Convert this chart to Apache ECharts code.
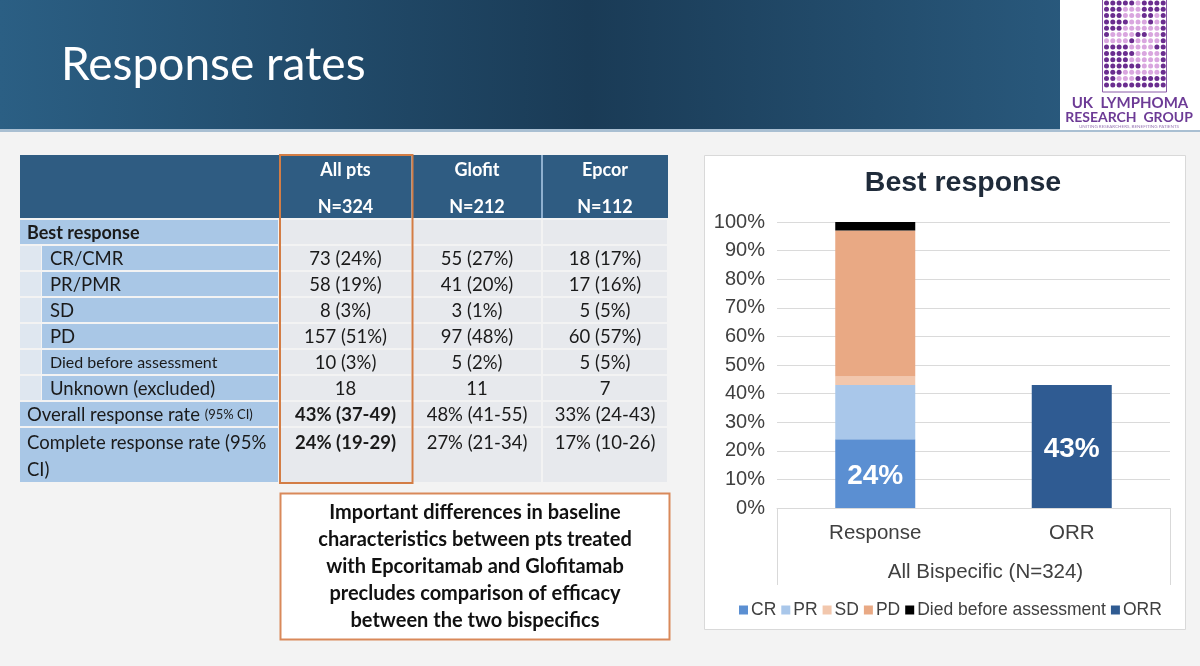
<!DOCTYPE html>
<html>
<head>
<meta charset="utf-8">
<script src="https://cdn.jsdelivr.net/npm/echarts@6/dist/echarts.min.js"></script>
<style>
  html, body { margin: 0; padding: 0; background: #f3f3f3; }
  #main { width: 1200px; height: 666px; }
</style>
</head>
<body>
<div id="main"></div>
<script>
// table content
var columnHeads = ['All pts', 'Glofit', 'Epcor'];
var columnN = ['N=324', 'N=212', 'N=112'];
var rowLabels = ['CR/CMR', 'PR/PMR', 'SD', 'PD', 'Died before assessment', 'Unknown (excluded)'];
var allPts = ['73 (24%)', '58 (19%)', '8 (3%)', '157 (51%)', '10 (3%)', '18'];
var glofit = ['55 (27%)', '41 (20%)', '3 (1%)', '97 (48%)', '5 (2%)', '11'];
var epcor = ['18 (17%)', '17 (16%)', '5 (5%)', '60 (57%)', '5 (5%)', '7'];
var orrRow = ['43% (37-49)', '48% (41-55)', '33% (24-43)'];
var crrRow = ['24% (19-29)', '27% (21-34)', '17% (10-26)'];
var noteLines = [
  'Important differences in baseline',
  'characteristics between pts treated',
  'with Epcoritamab and Glofitamab',
  'precludes comparison of efficacy',
  'between the two bispecifics'
];

// chart content
var categories = ['Response', 'ORR'];
var crVals = [24, null];
var prVals = [19, null];
var sdVals = [3, null];
var pdVals = [51, null];
var diedVals = [3, null];
var orrVals = [null, 43];

var myChart = echarts.init(document.getElementById('main'));

var FONT = 'Lato, "Open Sans", sans-serif';
var ARIAL = '"Liberation Sans", Arial, sans-serif';

var g = [];

// header band
g.push({
  type: 'rect', shape: { x: 0, y: 0, width: 1200, height: 130 },
  style: {
    fill: new echarts.graphic.LinearGradient(0, 0, 1, 0, [
      { offset: 0, color: '#2b5f84' },
      { offset: 0.49, color: '#1a3b56' },
      { offset: 1, color: '#2d6187' }
    ])
  }
});
g.push({ type: 'rect', shape: { x: 0, y: 129, width: 1200, height: 3 }, style: { fill: '#a9bfd2' } });
g.push({
  type: 'text', x: 61, y: 65,
  style: { text: 'Response rates', fill: '#ffffff', font: '46px ' + FONT, verticalAlign: 'middle' }
});

// logo
g.push({ type: 'rect', shape: { x: 1060, y: 0, width: 140, height: 130 }, style: { fill: '#ffffff' } });
var logoRows = [
  'dddddldddd', 'dddllldddd', 'dddlllddld', 'ddddllldld', 'dddlllllld',
  'dllllddlld', 'lllldlllld', 'ddddlllldd', 'dddddlllld', 'ddddllllld',
  'ddddddllld', 'dddlllllld', 'ddllldddddd', 'dddddddddd'
];
logoRows.forEach(function (row, r) {
  for (var c = 0; c < 10; c++) {
    g.push({
      type: 'circle', shape: { cx: 1106.5 + c * 6.3, cy: 3 + r * 6.3, r: 2.5 },
      style: { fill: row[c] === 'd' ? '#6a2d8f' : '#d9a6df' }
    });
  }
});
g.push({ type: 'rect', shape: { x: 1102.5, y: -2, width: 64, height: 94 }, style: { fill: 'none', stroke: '#8a5aa8', lineWidth: 1 } });
g.push({ type: 'text', x: 1130, y: 103, style: { text: 'UK  LYMPHOMA', fill: '#6d3b96', font: 'bold 15px ' + FONT, align: 'center', verticalAlign: 'middle' } });
g.push({ type: 'text', x: 1129, y: 117, style: { text: 'RESEARCH  GROUP', fill: '#6d3b96', font: 'bold 14px ' + FONT, align: 'center', verticalAlign: 'middle' } });
g.push({ type: 'text', x: 1129, y: 127, style: { text: 'UNITING RESEARCHERS, BENEFITING PATIENTS', fill: '#9a7ab5', font: '4.5px ' + FONT, align: 'center', verticalAlign: 'middle' } });

// table
var colX = [20, 279, 412, 542, 668];
var HEAD_BLUE = '#2f5c82';
var LABEL_BLUE = '#a9c7e6';
var CELL_GREY = '#e7e9ed';
var STRIP = '#dfe7f0';
var TXT = '#1a1a1a';
var TF = '18.5px ' + FONT;

g.push({ type: 'rect', shape: { x: 20, y: 155, width: 648, height: 63 }, style: { fill: HEAD_BLUE } });
g.push({ type: 'rect', shape: { x: 541, y: 155, width: 2, height: 63 }, style: { fill: '#8fb0cf' } });
g.push({ type: 'rect', shape: { x: 411, y: 155, width: 2, height: 63 }, style: { fill: '#8fb0cf' } });
for (var k = 0; k < 3; k++) {
  var cx = (colX[k + 1] + colX[k + 2]) / 2;
  g.push({ type: 'text', x: cx, y: 170, style: { text: columnHeads[k], fill: '#fff', font: 'bold 18px ' + FONT, align: 'center', verticalAlign: 'middle' } });
  g.push({ type: 'text', x: cx, y: 207, style: { text: columnN[k], fill: '#fff', font: 'bold 18px ' + FONT, align: 'center', verticalAlign: 'middle' } });
}

function rowCells(top, h, values, bold) {
  for (var k = 0; k < 3; k++) {
    var x0 = colX[k + 1] + 1, x1 = colX[k + 2] - 1;
    g.push({ type: 'rect', shape: { x: x0, y: top, width: x1 - x0, height: h }, style: { fill: CELL_GREY } });
    if (values) {
      g.push({
        type: 'text', x: (x0 + x1) / 2, y: top + 13,
        style: { text: values[k], fill: TXT, font: (bold && k === 0 ? 'bold ' : '') + TF, align: 'center', verticalAlign: 'middle' }
      });
    }
  }
}

// best response row
var top0 = 220;
g.push({ type: 'rect', shape: { x: 20, y: top0, width: 258, height: 24 }, style: { fill: LABEL_BLUE } });
g.push({ type: 'text', x: 27, y: top0 + 13, style: { text: 'Best response', fill: TXT, font: 'bold 18px ' + FONT, verticalAlign: 'middle' } });
rowCells(top0, 24, null, false);

// sub rows
rowLabels.forEach(function (lab, i) {
  var top = 220 + 26 * (i + 1);
  g.push({ type: 'rect', shape: { x: 20, y: top, width: 21, height: 24 }, style: { fill: STRIP } });
  g.push({ type: 'rect', shape: { x: 42, y: top, width: 236, height: 24 }, style: { fill: LABEL_BLUE } });
  g.push({
    type: 'text', x: 50, y: top + 13,
    style: { text: lab, fill: TXT, font: (i === 4 ? '16px ' + FONT : TF), verticalAlign: 'middle' }
  });
  rowCells(top, 24, [allPts[i], glofit[i], epcor[i]], false);
});

// ORR row
var topOrr = 220 + 26 * 7;
g.push({ type: 'rect', shape: { x: 20, y: topOrr, width: 258, height: 24 }, style: { fill: LABEL_BLUE } });
g.push({
  type: 'text', x: 27, y: topOrr + 13,
  style: {
    text: '{a|Overall response rate }{b|(95% CI)}', verticalAlign: 'middle',
    rich: { a: { fill: TXT, font: TF }, b: { fill: TXT, font: '13px ' + FONT } }
  }
});
rowCells(topOrr, 24, orrRow, true);

// CRR row
var topCrr = 220 + 26 * 8;
g.push({ type: 'rect', shape: { x: 20, y: topCrr, width: 258, height: 54 }, style: { fill: LABEL_BLUE } });
g.push({ type: 'text', x: 27, y: topCrr + 15, style: { text: 'Complete response rate (95%', fill: TXT, font: TF, verticalAlign: 'middle' } });
g.push({ type: 'text', x: 27, y: topCrr + 42, style: { text: 'CI)', fill: TXT, font: TF, verticalAlign: 'middle' } });
for (var k2 = 0; k2 < 3; k2++) {
  var xa = colX[k2 + 1] + 1, xb = colX[k2 + 2] - 1;
  g.push({ type: 'rect', shape: { x: xa, y: topCrr, width: xb - xa, height: 54 }, style: { fill: CELL_GREY } });
  g.push({ type: 'text', x: (xa + xb) / 2, y: topCrr + 15, style: { text: crrRow[k2], fill: TXT, font: (k2 === 0 ? 'bold ' : '') + TF, align: 'center', verticalAlign: 'middle' } });
}

// highlight box round All pts
g.push({ type: 'rect', shape: { x: 280, y: 155, width: 132.5, height: 328 }, style: { fill: 'none', stroke: '#d37d45', lineWidth: 2 } });

// note box
g.push({ type: 'rect', shape: { x: 280.5, y: 493.5, width: 389, height: 146 }, style: { fill: '#ffffff', stroke: '#d9895a', lineWidth: 2 } });
noteLines.forEach(function (line, i) {
  g.push({ type: 'text', x: 475, y: 513 + i * 27, style: { text: line, fill: '#111', font: 'bold 20px ' + FONT, align: 'center', verticalAlign: 'middle' } });
});

// chart panel behind the chart
g.push({ type: 'rect', z: -10, shape: { x: 704.5, y: 155.5, width: 481, height: 474 }, style: { fill: '#ffffff', stroke: '#d9d9d9', lineWidth: 1 } });
g.push({ type: 'text', x: 963, y: 183, style: { text: 'Best response', fill: '#1f2b3a', font: 'bold 28.5px ' + ARIAL, align: 'center', verticalAlign: 'middle' } });
g.push({ type: 'line', shape: { x1: 777.5, y1: 508, x2: 777.5, y2: 585 }, style: { stroke: '#d9d9d9', lineWidth: 1 } });
g.push({ type: 'line', shape: { x1: 1170.5, y1: 508, x2: 1170.5, y2: 585 }, style: { stroke: '#d9d9d9', lineWidth: 1 } });

function barSeries(name, data, color, label) {
  return {
    name: name, type: 'bar', stack: 'all', data: data, barWidth: 80,
    itemStyle: { color: color },
    label: label ? {
      show: true, position: 'inside', formatter: '{c}%', offset: [0, 3],
      color: '#ffffff', fontFamily: ARIAL, fontWeight: 'bold', fontSize: 28
    } : { show: false },
    z: 5
  };
}

myChart.setOption({
  backgroundColor: '#f3f3f3',
  animation: false,
  graphic: { elements: g },
  grid: { left: 777, right: 30, top: 222, bottom: 158 },
  legend: {
    left: 734, top: 596, icon: 'rect', itemWidth: 9, itemHeight: 9, itemGap: 5,
    textStyle: { color: '#404040', fontFamily: ARIAL, fontSize: 17.5, padding: [0, 0, 0, -2] },
    data: ['CR', 'PR', 'SD', 'PD', 'Died before assessment', 'ORR']
  },
  xAxis: {
    type: 'category', data: categories,
    axisLine: { lineStyle: { color: '#d9d9d9' } },
    axisTick: { show: false },
    axisLabel: { color: '#404040', fontFamily: ARIAL, fontSize: 20.5, margin: 15 },
    name: 'All Bispecific (N=324)', nameLocation: 'middle', nameGap: 54,
    nameTextStyle: { color: '#404040', fontFamily: ARIAL, fontSize: 20.5, padding: [0, 0, 0, 24] }
  },
  yAxis: {
    type: 'value', min: 0, max: 100, interval: 10,
    axisLine: { show: false }, axisTick: { show: false },
    axisLabel: { formatter: '{value}%', color: '#404040', fontFamily: ARIAL, fontSize: 20, margin: 12 },
    splitLine: { lineStyle: { color: '#dadada' } }
  },
  series: [
    barSeries('CR', crVals, '#5b8fd2', true),
    barSeries('PR', prVals, '#a9c7ea', false),
    barSeries('SD', sdVals, '#f2c7ad', false),
    barSeries('PD', pdVals, '#e9a984', false),
    barSeries('Died before assessment', diedVals, '#000000', false),
    barSeries('ORR', orrVals, '#2f5b92', true)
  ]
});
</script>
</body>
</html>
